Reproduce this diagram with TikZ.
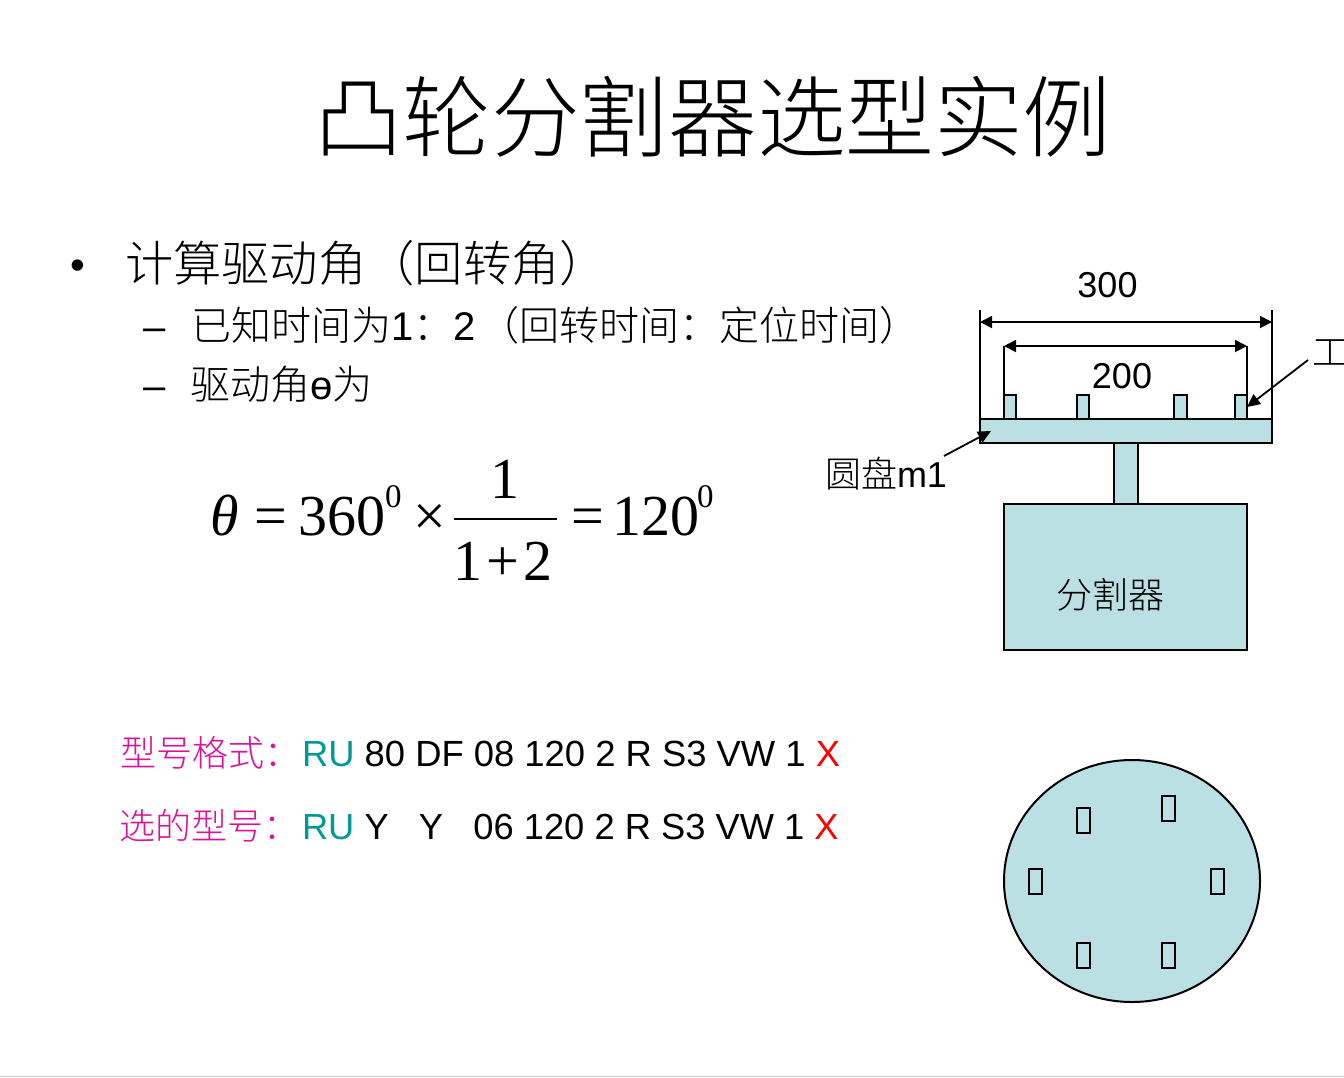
\documentclass[tikz,border=0pt]{standalone}
\usepackage{fontspec}
\usepackage{xcolor}
\setmainfont{Liberation Sans}
\newfontfamily\cjk{Noto Sans CJK SC Light}
\newfontfamily\mathserif{Liberation Serif}
\usetikzlibrary{shapes.geometric,arrows.meta,positioning}
\definecolor{partblue}{HTML}{BAE0E3}
\definecolor{modelpink}{HTML}{DC1099}
\definecolor{modelteal}{HTML}{009999}
\newcommand{\fsize}[1]{\fontsize{#1}{#1}\selectfont}
\tikzset{
  txt/.style={inner sep=0pt, outer sep=0pt, anchor=base west},
  part/.style={draw, line width=2pt, fill=partblue, inner sep=0pt, outer sep=0pt},
  hole/.style={draw, line width=2pt, inner sep=0pt, minimum width=13pt, minimum height=25pt},
  dimarrow/.style={line width=1.8pt, {Triangle[length=12pt,width=12pt]}-{Triangle[length=12pt,width=12pt]}},
  extline/.style={line width=1.8pt},
  leader/.style={line width=1.8pt, -{Triangle[length=13pt,width=12pt]}},
  formula/.style={txt, font=\mathserif\fsize{58}}
}
\begin{document}
\begin{tikzpicture}[x=1pt,y=-1pt]
    \useasboundingbox (0,0) rectangle (1344,1077);
    \coordinate (edgeL) at (0,1076);
    \coordinate (edgeR) at (1344,1076);
    \draw[gray!40, line width=1pt] (edgeL) -- (edgeR);
    % heading and bullets
    \node[txt, font=\cjk\fsize{88.6}] (title) at (314,150) {凸轮分割器选型实例};
    \node[txt, font=\fsize{42}] (bullet) at (70.6,279) {•};
    \node[txt, font=\cjk\fsize{48.3}] (lineA) at (125,281) {计算驱动角（回转角）};
    \node[txt, font=\fsize{40}] (dashB) at (143,340) {–};
    \node[txt, font=\fsize{40}] (lineB) at (191,340) {{\cjk 已知时间为}1{\cjk ：}2\kern4pt{\cjk （回转时间：定位时间）}};
    \node[txt, font=\fsize{40}] (dashC) at (143,399) {–};
    \node[txt, font=\fsize{40}] (lineC) at (190,399) {{\cjk 驱动角}ө{\cjk 为}};
    % formula
    \node[formula] (theta) at (210,535) {\textit{θ}};
    \node[formula] (eqA) at (254,535) {=};
    \node[formula] (numA) at (298,535) {360};
    \node[formula, font=\mathserif\fsize{33}] (supA) at (385,507) {0};
    \node[formula] (times) at (413,535) {×};
    \node[formula, anchor=base] (numer) at (505,498) {1};
    \node[formula, anchor=base] (denom) at (503,580) {1\kern4pt+\kern4pt2};
    \coordinate (barL) at (454,519);
    \coordinate (barR) at (557,519);
    \draw[line width=2pt] (barL) -- (barR);
    \node[formula] (eqB) at (571,535) {=};
    \node[formula] (numB) at (612,535) {120};
    \node[formula, font=\mathserif\fsize{33}] (supB) at (697,507) {0};
    % side view
    \node[part, minimum width=24pt, minimum height=61pt] (post) at (1126,473.5) {};
    \node[part, minimum width=292pt, minimum height=24pt] (disk) at (1126,431) {};
    \node[part, minimum width=243pt, minimum height=146pt] (base) at (1125.5,577) {};
    \node[txt, font=\cjk\fsize{36}, anchor=base] (baselabel) at (1110,608) {分割器};
    \node[part, minimum width=12pt, minimum height=24pt] (pegA) at (1010,407) {};
    \node[part, minimum width=12pt, minimum height=24pt] (pegB) at (1083,407) {};
    \node[part, minimum width=13pt, minimum height=24pt] (pegC) at (1180.5,407) {};
    \node[part, minimum width=12pt, minimum height=24pt] (pegD) at (1241,407) {};
    \coordinate (extA) at (980,310);
    \coordinate (extB) at (1272,310);
    \coordinate (extC) at (1004,346);
    \coordinate (extD) at (1247,346);
    \coordinate (dimA) at (980,322);
    \coordinate (dimB) at (1272,322);
    \draw[extline] (extA) -- (disk.north west);
    \draw[extline] (extB) -- (disk.north east);
    \draw[extline] (extC) -- (pegA.north west);
    \draw[extline] (extD) -- (pegD.north east);
    \draw[dimarrow] (dimA) -- (dimB);
    \draw[dimarrow] (extC) -- (extD);
    \node[txt, font=\fsize{36}, anchor=base] (widthA) at (1107.5,297) {300};
    \node[txt, font=\fsize{36}, anchor=base] (widthB) at (1122,388) {200};
    \node[txt, font=\cjk\fsize{36}] (pieces) at (1312,365) {工};
    \coordinate (piecesEnd) at (1308,360);
    \draw[leader] (piecesEnd) -- (pegD.east);
    \node[txt, font=\fsize{36}] (disklabel) at (825,487) {{\cjk 圆盘}m1};
    \coordinate (diskStart) at (944,456);
    \coordinate (diskTip) at (991,431);
    \draw[leader] (diskStart) -- (diskTip);
    % model lines
    \node[txt, font=\cjk\fsize{36}, text=modelpink] (nameA) at (120,766) {型号格式：};
    \node[txt, font=\fsize{36.4}] (modelA) at (302,766) {\textcolor{modelteal}{RU} 80 DF 08 120 2 R S3 VW 1 \textcolor{red}{X}};
    \node[txt, font=\cjk\fsize{36}, text=modelpink] (nameB) at (119,839) {选的型号：};
    \node[txt, font=\fsize{36.3}] (modelB) at (302,839) {\textcolor{modelteal}{RU} Y\ \ \ Y\ \ \ 06 120 2 R S3 VW 1 \textcolor{red}{X}};
    % top view
    \node[ellipse, draw, line width=2pt, fill=partblue, inner sep=0pt, minimum width=256pt, minimum height=242pt] (plate) at (1132,881) {};
    \node[hole] (holeA) at (1083,820) {};
    \node[hole] (holeB) at (1168,808) {};
    \node[hole] (holeC) at (1035,881) {};
    \node[hole] (holeD) at (1217,881) {};
    \node[hole] (holeE) at (1083,955) {};
    \node[hole] (holeF) at (1168,955) {};
\end{tikzpicture}
\end{document}
